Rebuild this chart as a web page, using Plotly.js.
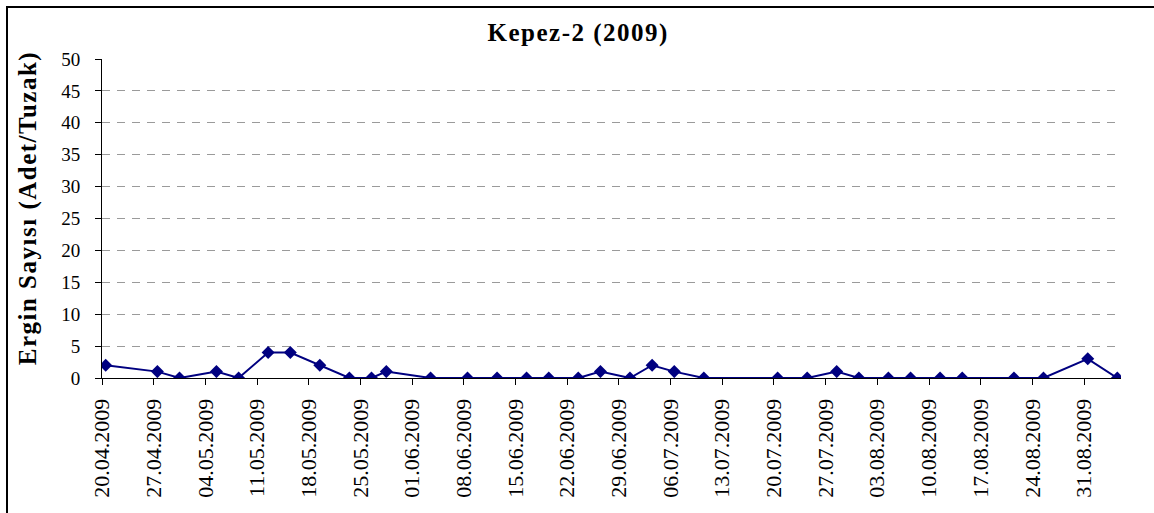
<!DOCTYPE html>
<html>
<head>
<meta charset="utf-8">
<script src="https://cdn.plot.ly/plotly-3.0.1.min.js"></script>
<style>
html,body{margin:0;padding:0;background:#fff;overflow:hidden;}
#chart{position:absolute;left:0;top:0;width:1154px;height:513px;}
#frame{position:absolute;left:6px;top:6px;width:1160px;height:520px;border:2px solid #000;pointer-events:none;}
#chart .annotation-text{letter-spacing:1.5px;}
</style>
</head>
<body>
<div id="chart"></div>
<div id="frame"></div>
<script>
const titleText = "Kepez-2 (2009)";
const yTitle = "Ergin Sayısı (Adet/Tuzak)";
const dates = ["2009-04-20","2009-04-27","2009-04-30","2009-05-05","2009-05-08","2009-05-12","2009-05-15","2009-05-19","2009-05-23","2009-05-26","2009-05-28","2009-06-03","2009-06-08","2009-06-12","2009-06-16","2009-06-19","2009-06-23","2009-06-26","2009-06-30","2009-07-03","2009-07-06","2009-07-10","2009-07-20","2009-07-24","2009-07-28","2009-07-31","2009-08-04","2009-08-07","2009-08-11","2009-08-14","2009-08-21","2009-08-25","2009-08-31","2009-09-04"];
const counts = [2,1,0,1,0,4,4,2,0,0,1,0,0,0,0,0,0,1,0,2,1,0,0,0,1,0,0,0,0,0,0,0,3,0];
const tickDates = ["2009-04-20","2009-04-27","2009-05-04","2009-05-11","2009-05-18","2009-05-25","2009-06-01","2009-06-08","2009-06-15","2009-06-22","2009-06-29","2009-07-06","2009-07-13","2009-07-20","2009-07-27","2009-08-03","2009-08-10","2009-08-17","2009-08-24","2009-08-31"];
const tickLabels = ["20.04.2009","27.04.2009","04.05.2009","11.05.2009","18.05.2009","25.05.2009","01.06.2009","08.06.2009","15.06.2009","22.06.2009","29.06.2009","06.07.2009","13.07.2009","20.07.2009","27.07.2009","03.08.2009","10.08.2009","17.08.2009","24.08.2009","31.08.2009"];

// Excel date axis: each point sits in the middle of its day
const xs = dates.map(d => d + " 12:00");

const serif = "Liberation Serif, Times New Roman, serif";
const W = 1154, H = 513;
const M = {l: 102, r: 33, t: 59, b: 135};
const pw = W - M.l - M.r, ph = H - M.t - M.b;

Plotly.newPlot("chart", [{
  x: xs,
  y: counts,
  type: "scatter",
  mode: "lines+markers",
  line: {color: "#000080", width: 2},
  marker: {symbol: "diamond", size: 10, color: "#000080"},
  showlegend: false,
  hoverinfo: "x+y"
}], {
  width: W, height: H,
  margin: M,
  paper_bgcolor: "#fff", plot_bgcolor: "#fff",
  xaxis: {
    type: "date",
    range: ["2009-04-20", "2009-09-05"],
    tickmode: "array", tickvals: tickDates, ticktext: tickLabels,
    tickangle: -90,
    tickfont: {family: serif, size: 22, color: "#000"},
    ticks: "outside", ticklen: 6, tickcolor: "#000", tickwidth: 1,
    ticklabelstandoff: 5,
    showline: true, linecolor: "#000", linewidth: 1,
    showgrid: false, zeroline: false, fixedrange: true
  },
  yaxis: {
    range: [0, 50], dtick: 5, tick0: 0,
    tickfont: {family: serif, size: 19, color: "#000"},
    ticks: "outside", ticklen: 6, tickcolor: "#000", tickwidth: 1,
    ticklabelstandoff: 11,
    showline: true, linecolor: "#000", linewidth: 1,
    showgrid: true, gridcolor: "#9a9a9a", gridwidth: 1, griddash: "8px,7px",
    zeroline: false, fixedrange: true
  },
  annotations: [
    {text: "<b>" + titleText + "</b>", xref: "paper", yref: "paper",
     x: (578 - M.l) / pw, y: 1 + (M.t - 33) / ph, xanchor: "center", yanchor: "middle",
     showarrow: false, font: {family: serif, size: 25, color: "#000"}},
    {text: "<b>" + yTitle + "</b>", xref: "paper", yref: "paper", textangle: -90,
     x: (27 - M.l) / pw, y: 1 - (208.5 - M.t) / ph, xanchor: "center", yanchor: "middle",
     showarrow: false, font: {family: serif, size: 25, color: "#000"}}
  ]
}, {staticPlot: true});
</script>
</body>
</html>
